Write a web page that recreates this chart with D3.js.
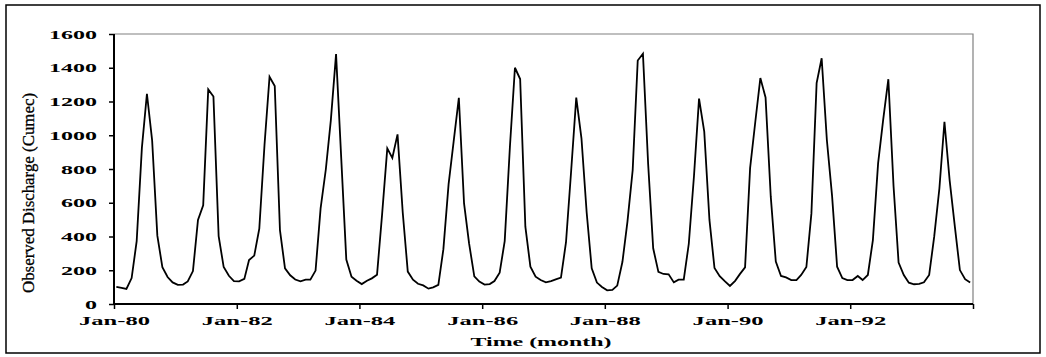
<!DOCTYPE html>
<html>
<head>
<meta charset="utf-8">
<script src="https://cdn.jsdelivr.net/npm/d3@7"></script>
<style>
  body { margin: 0; background: #fff; }
  svg { display: block; }
</style>
</head>
<body>
<div id="chart"></div>
<script>
// Monthly observed discharge (Cumec), Jan 1980 - Dec 1993, one row per year
const discharge = [
    101, 95, 89, 154, 372, 925, 1246, 970, 405, 218, 160, 128,     // 1980
    113, 115, 134, 195, 498, 585, 1272, 1230, 402, 219, 167, 136,  // 1981
    134, 149, 261, 287, 446, 942, 1347, 1292, 438, 211, 170, 145,  // 1982
    134, 144, 144, 198, 567, 797, 1090, 1481, 860, 263, 162, 138,  // 1983
    118, 138, 152, 174, 530, 922, 866, 1005, 542, 192, 144, 120,   // 1984
    110, 91, 99, 113, 325, 710, 962, 1222, 596, 359, 164, 133,     // 1985
    115, 118, 136, 186, 372, 930, 1400, 1333, 458, 221, 162, 142,  // 1986
    128, 136, 146, 156, 366, 794, 1223, 982, 542, 211, 127, 101,   // 1987
    81, 83, 109, 250, 490, 794, 1443, 1483, 830, 330, 190, 178,    // 1988
    176, 128, 144, 144, 357, 760, 1217, 1021, 498, 213, 165, 135,  // 1989
    107, 137, 177, 217, 805, 1080, 1339, 1224, 636, 251, 166, 158, // 1990
    142, 142, 172, 219, 537, 1309, 1456, 972, 641, 221, 154, 142,  // 1991
    142, 166, 142, 172, 379, 833, 1090, 1332, 698, 246, 172, 126,  // 1992
    117, 119, 129, 172, 399, 686, 1080, 733, 458, 201, 147, 127    // 1993
];
const startYear = 1980;
const endYear = 1994;
const yTicks = [0, 200, 400, 600, 800, 1000, 1200, 1400, 1600];
const xTickYears = [1980, 1982, 1984, 1986, 1988, 1990, 1992, 1994];

const width = 1046, height = 357;
const plot = { left: 114, right: 973, top: 34, bottom: 304 };

// points sit in the middle of each month (Excel date axis)
const data = discharge.map((v, i) => ({ date: new Date(startYear, i, 15), value: v }));

const svg = d3.select("#chart")
    .append("svg")
    .attr("width", width)
    .attr("height", height);

// outer chart border
svg.append("rect")
    .attr("x", 6).attr("y", 5)
    .attr("width", 1034).attr("height", 348)
    .attr("fill", "#fff")
    .attr("stroke", "#000")
    .attr("stroke-width", 1.5);

const x = d3.scaleTime()
    .domain([new Date(startYear, 0, 1), new Date(endYear, 0, 1)])
    .range([plot.left, plot.right]);

const y = d3.scaleLinear()
    .domain([0, 1600])
    .range([plot.bottom, plot.top]);

// plot area frame (top and right in grey)
svg.append("path")
    .attr("d", `M${plot.left},${plot.top}H${plot.right}V${plot.bottom}`)
    .attr("fill", "none")
    .attr("stroke", "#808080")
    .attr("stroke-width", 1.2);

// y axis
const yAxis = svg.append("g")
    .attr("transform", `translate(${plot.left},0)`)
    .call(d3.axisLeft(y).tickValues(yTicks).tickSize(5).tickPadding(12).tickFormat(d3.format("d")));
yAxis.select(".domain").attr("stroke", "#000").attr("stroke-width", 2)
    .attr("d", `M0,${plot.top}V${plot.bottom}`);
yAxis.selectAll(".tick line").attr("stroke", "#000").attr("stroke-width", 1.5);
yAxis.selectAll(".tick text")
    .attr("font-family", "'Liberation Serif', 'Times New Roman', serif")
    .attr("font-weight", "bold")
    .attr("font-size", 13)
    .attr("fill", "#000")
    .attr("x", -17)
    .attr("textLength", d => String(d).length * 12)
    .attr("lengthAdjust", "spacingAndGlyphs");

// x axis
const xAxis = svg.append("g")
    .attr("transform", `translate(0,${plot.bottom})`)
    .call(d3.axisBottom(x)
        .tickValues(xTickYears.map(yr => new Date(yr, 0, 1)))
        .tickSize(5)
        .tickPadding(6)
        .tickFormat(d => d.getFullYear() === endYear ? "" : d3.timeFormat("%b-%y")(d)));
xAxis.select(".domain").attr("stroke", "#000").attr("stroke-width", 2)
    .attr("d", `M${plot.left},0H${plot.right}`);
xAxis.selectAll(".tick line").attr("stroke", "#000").attr("stroke-width", 1.5);
xAxis.selectAll(".tick text")
    .attr("font-family", "'Liberation Serif', 'Times New Roman', serif")
    .attr("font-weight", "bold")
    .attr("font-size", 13.5)
    .attr("fill", "#000")
    .attr("textLength", function () { return this.textContent ? 71 : 0; })
    .attr("lengthAdjust", "spacingAndGlyphs");

// discharge line
const line = d3.line()
    .x(d => x(d.date))
    .y(d => y(d.value));

svg.append("path")
    .datum(data)
    .attr("fill", "none")
    .attr("stroke", "#000")
    .attr("stroke-width", 1.8)
    .attr("stroke-linejoin", "miter")
    .attr("d", line);

// axis titles
svg.append("text")
    .attr("x", 541)
    .attr("y", 346)
    .attr("text-anchor", "middle")
    .attr("font-family", "'Liberation Serif', 'Times New Roman', serif")
    .attr("font-weight", "bold")
    .attr("font-size", 13)
    .attr("textLength", 141)
    .attr("lengthAdjust", "spacingAndGlyphs")
    .text("Time (month)");

svg.append("text")
    .attr("transform", "translate(34,193) rotate(-90)")
    .attr("text-anchor", "middle")
    .attr("font-family", "'Liberation Serif', 'Times New Roman', serif")
    .attr("font-size", 17)
    .attr("stroke", "#000")
    .attr("stroke-width", 0.3)
    .attr("textLength", 200)
    .attr("lengthAdjust", "spacingAndGlyphs")
    .text("Observed Discharge (Cumec)");
</script>
</body>
</html>
